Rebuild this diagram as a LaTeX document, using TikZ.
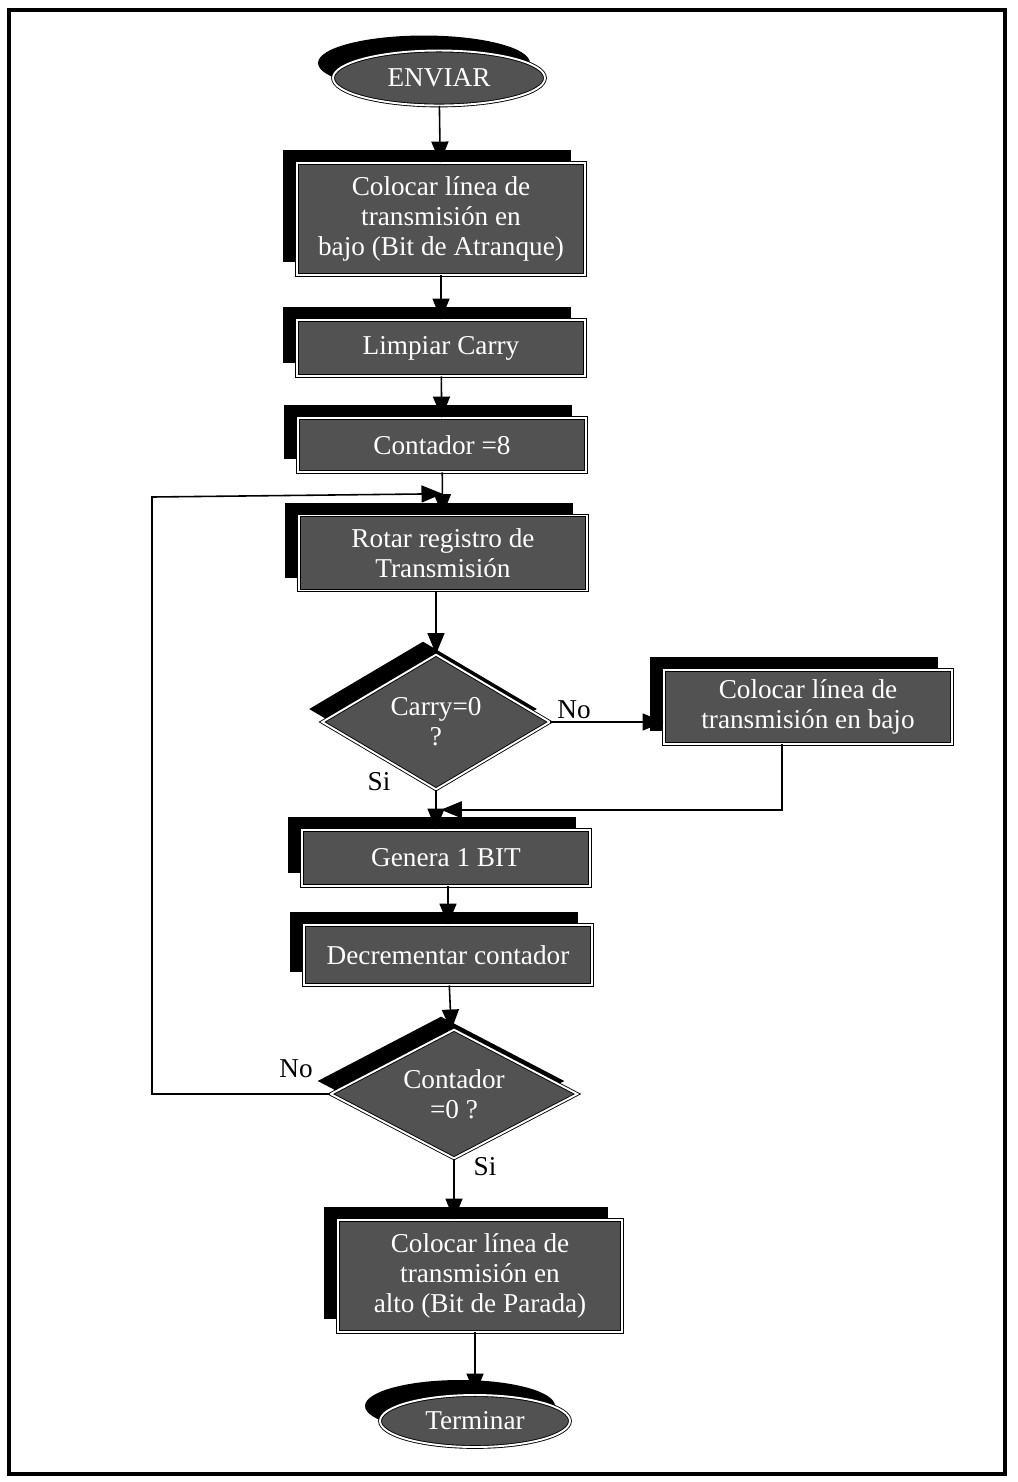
\documentclass[tikz,border=0pt]{standalone}
\usepackage{fontspec}
\setmainfont{Liberation Serif}
\usetikzlibrary{positioning, shapes.geometric, shadows, arrows.meta, calc}
\definecolor{scangray}{RGB}{82,82,82}

\begin{document}
\begin{tikzpicture}[x=0.02cm, y=-0.02cm,
        proc/.style={rectangle, draw=black, double=white, double distance=1.1pt, line width=0.5pt, fill=scangray, text=white, align=center, minimum width=5.76cm, inner sep=0pt, font=\fontsize{15.5}{17}\selectfont, general shadow={fill=black, shadow xshift=-0.28cm, shadow yshift=0.26cm}},
        term/.style={ellipse, draw=black, double=white, double distance=1.1pt, line width=0.5pt, fill=scangray, text=white, inner sep=0pt, font=\fontsize{15.5}{17}\selectfont, general shadow={fill=black, shadow xshift=-0.3cm, shadow yshift=0.3cm}},
        dec/.style={diamond, aspect=1.7, draw=black, double=white, double distance=1.1pt, line width=0.5pt, fill=scangray, text=white, align=center, inner sep=0pt, font=\fontsize{15.5}{17}\selectfont, general shadow={fill=black, shadow xshift=-0.26cm, shadow yshift=0.26cm}},
        arr/.style={-{Triangle[length=0.42cm, width=0.34cm]}, line width=0.9pt},
        lbl/.style={font=\fontsize{15.5}{17}\selectfont}]
        \useasboundingbox (0,0) rectangle (1018,1482);
        \draw[line width=2.4pt] (9,10) rectangle (1005,1474);

        \node[term, minimum width=4.24cm, minimum height=1.1cm] (env) at (439,78) {ENVIAR};
        \node[proc, minimum height=2.24cm] (b1) at (441,219) {Colocar línea de\\transmisión en\\bajo (Bit de Atranque)};
        \node[proc, minimum height=1.12cm] (b2) at (441,348) {Limpiar Carry};
        \node[proc, minimum height=1.08cm] (b3) at (442,445) {Contador =8};
        \node[proc, minimum height=1.5cm] (b4) at (443,553) {Rotar registro de\\Transmisión};
        \node[dec, minimum width=4.56cm, minimum height=2.7cm] (d1) at (436,722) {Carry=0\\?};
        \node[proc, minimum height=1.48cm] (rb) at (808,707) {Colocar línea de\\transmisión en bajo};
        \node[proc, minimum height=1.12cm] (b5) at (446,858) {Genera 1 BIT};
        \node[proc, minimum height=1.2cm] (b6) at (448,955) {Decrementar contador};
        \node[dec, minimum width=4.94cm, minimum height=2.58cm] (d2) at (454,1094) {Contador\\=0 ?};
        \node[proc, minimum width=5.68cm, minimum height=2.24cm] (b7) at (480,1276) {Colocar línea de\\transmisión en\\alto (Bit de Parada)};
        \node[term, minimum width=3.8cm, minimum height=1.04cm] (fin) at (475,1421) {Terminar};

        \coordinate (m1) at ($(b3.south)!0.5!(b4.north)$);
        \coordinate (m2) at ($(d1.south)!0.5!(b5.north)$);
        \coordinate (lp) at (152,497);

        \draw[arr] (env) -- (b1);
        \draw[arr] (b1) -- (b2);
        \draw[arr] (b2) -- (b3);
        \draw[arr] (b3) -- (b4);
        \draw[arr] (b4.south -| d1.north) -- (d1);
        \draw[arr] (d1.east) -- (d1.east -| rb.west);
        \draw[arr] (d1.south) -- (d1.south |- b5.north);
        \draw[arr] ([xshift=-0.52cm]rb.south) |- (m2);
        \draw[arr] (b5.south -| b6.north) -- (b6);
        \draw[arr] (b6) -- (d2);
        \draw[arr] (d2.west) -| (lp) -- (m1);
        \draw[arr] (d2.south) -- (d2.south |- b7.north);
        \draw[arr] (b7.south -| fin.north) -- (fin);

        \node[lbl] (no1) at (574,710) {No};
        \node[lbl] (si1) at (379,782) {Si};
        \node[lbl] (no2) at (296,1069) {No};
        \node[lbl] (si2) at (485,1167) {Si};
      \end{tikzpicture}
\end{document}
